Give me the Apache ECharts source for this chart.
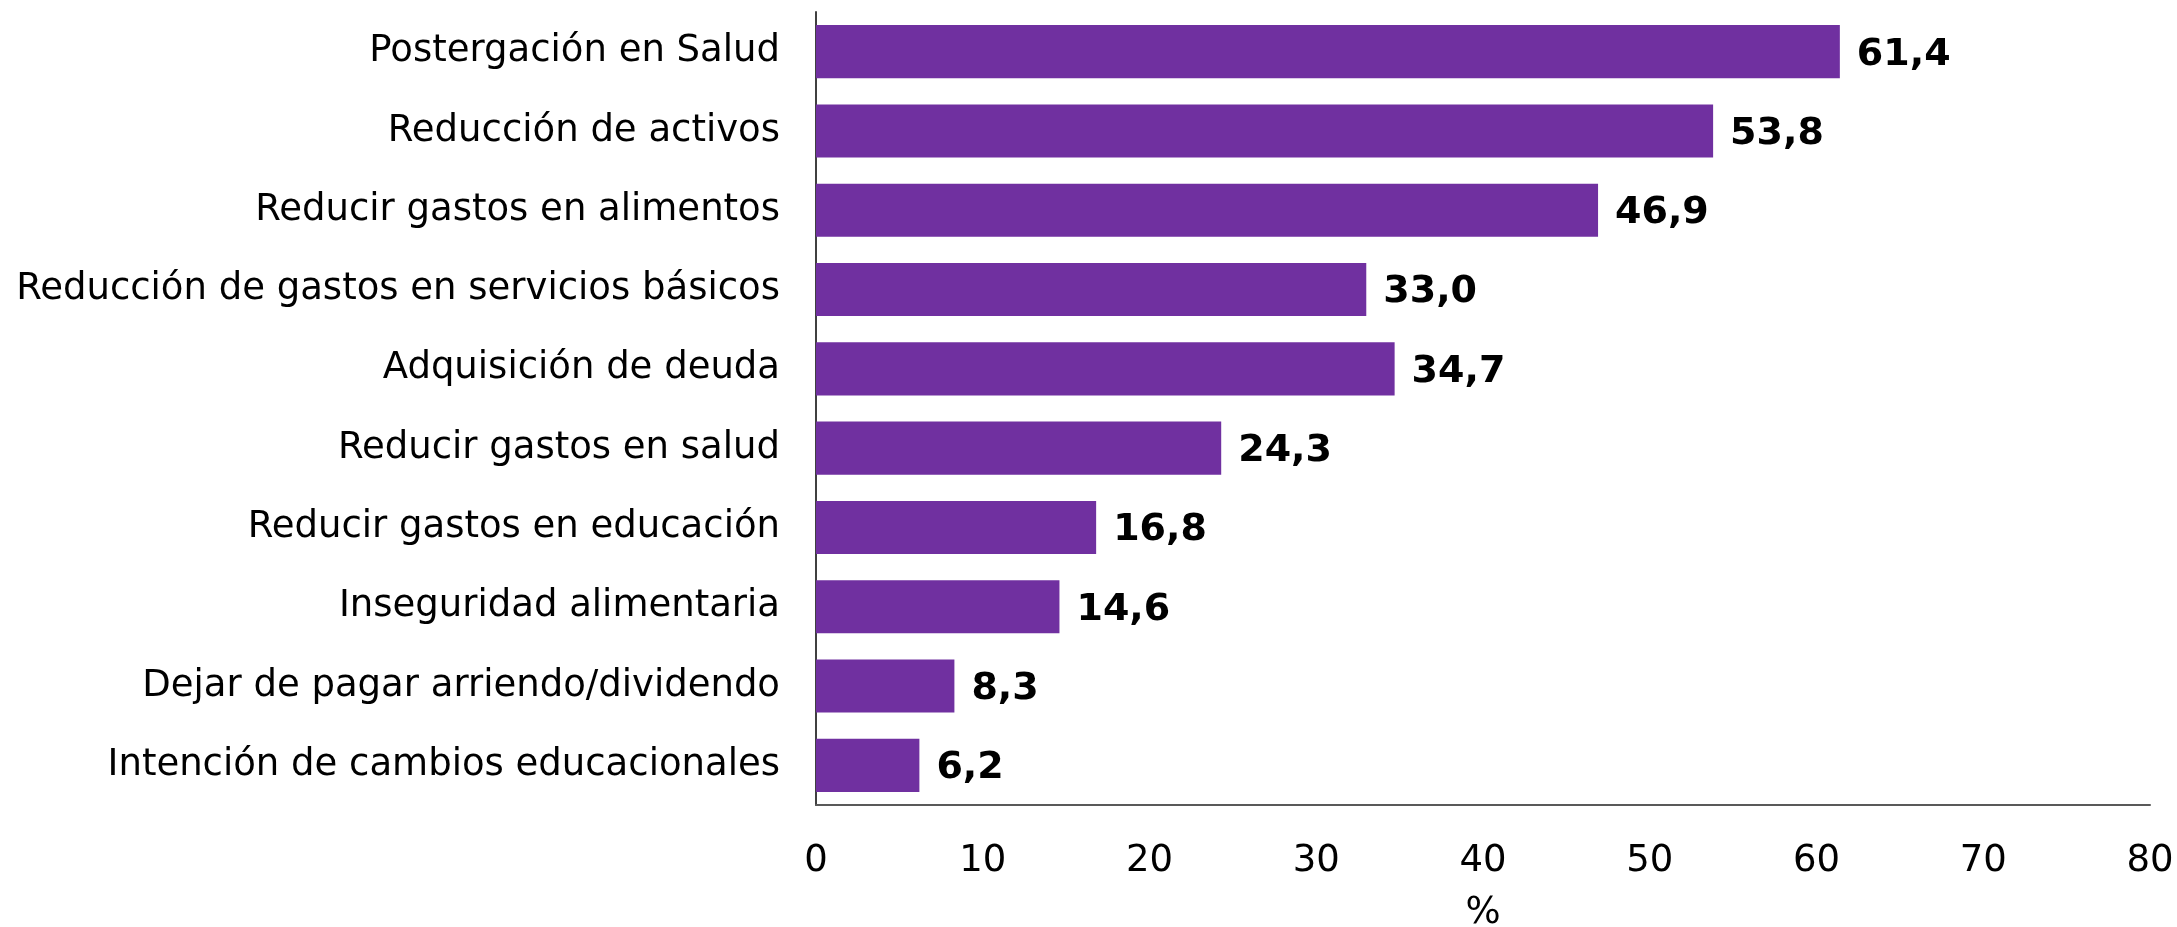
<!DOCTYPE html>
<html>
<head>
<meta charset="utf-8">
<script src="https://cdn.jsdelivr.net/npm/echarts@6/dist/echarts.min.js"></script>
<style>
  html, body { margin: 0; padding: 0; background: #ffffff; overflow: hidden; }
  #chart { width: 2177px; height: 927px; }
</style>
</head>
<body>
<div id="chart"></div>
<script>
// Coping strategies, share of households (%)
const categories = [
  'Postergación en Salud',
  'Reducción de activos',
  'Reducir gastos en alimentos',
  'Reducción de gastos en servicios básicos',
  'Adquisición de deuda',
  'Reducir gastos en salud',
  'Reducir gastos en educación',
  'Inseguridad alimentaria',
  'Dejar de pagar arriendo/dividendo',
  'Intención de cambios educacionales'
];
const values = [61.4, 53.8, 46.9, 33.0, 34.7, 24.3, 16.8, 14.6, 8.3, 6.2];
const axisMax = 80;
const axisStep = 10;

const FONT = 'DejaVu Sans';
const chart = echarts.init(document.getElementById('chart'), null, { renderer: 'canvas' });

chart.setOption({
  animation: false,
  backgroundColor: '#ffffff',
  grid: {
    left: 816, right: 27, top: 12, bottom: 122,
    containLabel: false,
    outerBoundsMode: 'none'
  },
  xAxis: {
    type: 'value',
    min: 0,
    max: axisMax,
    interval: axisStep,
    name: '%',
    nameLocation: 'middle',
    nameGap: 90,
    nameTextStyle: { fontFamily: FONT, fontSize: 37, color: '#000000', verticalAlign: 'top' },
    axisLine: { show: true, lineStyle: { color: '#595959', width: 2 } },
    axisTick: { show: false },
    splitLine: { show: false },
    axisLabel: { fontFamily: FONT, fontSize: 37, color: '#000000', margin: 38 }
  },
  yAxis: {
    type: 'category',
    data: categories,
    inverse: true,
    axisLine: { show: true, lineStyle: { color: '#404040', width: 2 } },
    axisTick: { show: false },
    axisLabel: {
      fontFamily: FONT, fontSize: 37, color: '#000000', margin: 36,
      verticalAlign: 'middle', lineHeight: 37, padding: [7, 0, 0, 0]
    }
  },
  series: [{
    type: 'bar',
    data: values,
    barWidth: '67%',
    itemStyle: { color: '#7030A0' },
    label: {
      show: true,
      position: 'right',
      distance: 17,
      offset: [0, 3],
      fontFamily: FONT,
      fontSize: 38,
      fontWeight: 'bold',
      color: '#000000',
      formatter: p => p.value.toFixed(1).replace('.', ',')
    }
  }]
});
</script>
</body>
</html>
